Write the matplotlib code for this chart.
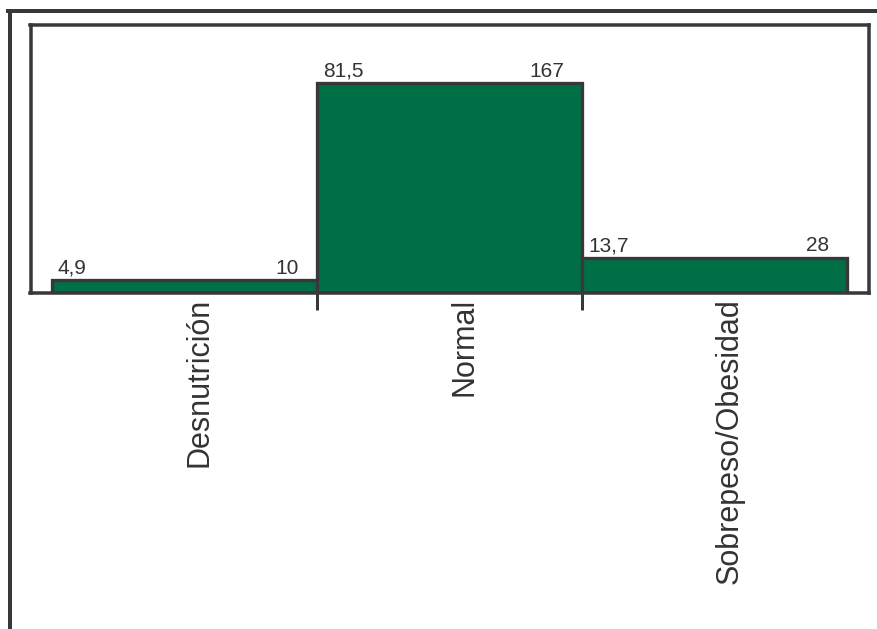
import matplotlib
matplotlib.use('Agg')
import matplotlib.pyplot as plt
from matplotlib.lines import Line2D

plt.rcParams['font.family'] = ['Liberation Sans', 'DejaVu Sans']

categories = ['Desnutrición', 'Normal', 'Sobrepeso/Obesidad']
counts = [10, 167, 28]
percents = [4.9, 81.5, 13.7]

green = '#006f45'
dark = '#38383c'
px = 72 / 100  # points per pixel at dpi 100

fig = plt.figure(figsize=(8.77, 6.29), dpi=100)

# outer frame (only top and left edges show)
fig.add_artist(Line2D([10.3 / 877, 10.3 / 877], [0, 1 - 10.7 / 629],
                      transform=fig.transFigure, color=dark, lw=4 * px))
fig.add_artist(Line2D([10.3 / 877 - 2 / 877, 1], [1 - 10.7 / 629, 1 - 10.7 / 629],
                      transform=fig.transFigure, color=dark, lw=4 * px))

ax = fig.add_axes([30.5 / 877, 1 - 293 / 629, 838 / 877, 268.5 / 629])

x = list(range(len(categories)))
ax.bar(x, counts, width=1.0, color=green, edgecolor=dark, linewidth=3.3 * px, zorder=2)

ax.set_xlim(-0.581, 2.581)
ax.set_ylim(0, 214)

for sp in ax.spines.values():
    sp.set_color(dark)
    sp.set_linewidth(3.5 * px)
    sp.set_zorder(3)

ax.set_yticks([])
ax.set_xticks([0.5, 1.5])
ax.set_xticklabels([])
ax.tick_params(axis='x', length=17 * px, width=3 * px, color=dark, direction='out')

# value labels: percent at the left of each bar top, count at the right
for i, (n, p) in enumerate(zip(counts, percents)):
    ax.annotate(f'{p:.1f}'.replace('.', ','), xy=(i - 0.5, n), xytext=(6, 6.5),
                textcoords='offset pixels', ha='left', va='baseline',
                fontsize=15, color='#333333')
    ax.annotate(str(n), xy=(i + 0.5, n), xytext=(-18, 6.5),
                textcoords='offset pixels', ha='right', va='baseline',
                fontsize=15, color='#333333')

# rotated category names under each bar
for i, name in enumerate(categories):
    ax.annotate(name, xy=(i, 0), xycoords=('data', 'axes fraction'),
                xytext=(0, -5), textcoords='offset pixels',
                rotation=90, ha='left', va='top', fontsize=22, color='#333333')

fig.savefig('out.png', dpi=100)
